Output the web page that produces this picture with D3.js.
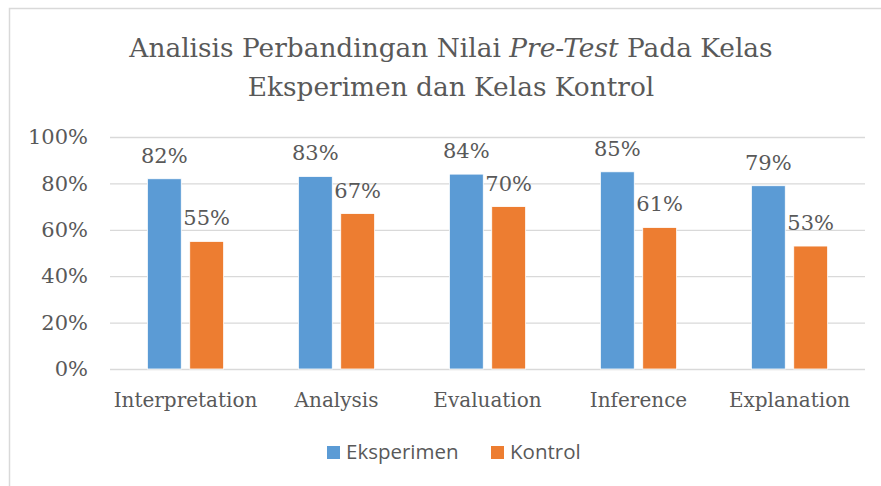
<!DOCTYPE html>
<html>
<head>
<meta charset="utf-8">
<script src="https://cdn.jsdelivr.net/npm/d3@7"></script>
<style>
  body { margin: 0; background: #fff; }
  svg text { fill: #595959; }
</style>
</head>
<body>
<script>
'use strict';

// chart data
const categories = ["Interpretation", "Analysis", "Evaluation", "Inference", "Explanation"];
const seriesNames = ["Eksperimen", "Kontrol"];
const eksperimen = [0.82, 0.83, 0.84, 0.85, 0.79];
const kontrol = [0.55, 0.67, 0.70, 0.61, 0.53];
const yTicks = [0, 0.2, 0.4, 0.6, 0.8, 1.0];

const colors = { Eksperimen: "#5b9bd5", Kontrol: "#ed7d31" };
const serif = "'DejaVu Serif', 'Liberation Serif', serif";
const sans = "'Open Sans', 'Liberation Sans', sans-serif";

let svg = d3.select('body')
  .append('svg')
  .attr('width', 881)
  .attr('height', 486);

// outer chart border (runs past the right/bottom edge)
svg.append('rect')
  .attr('x', 9.5).attr('y', 8.5)
  .attr('width', 900).attr('height', 500)
  .attr('fill', '#fff')
  .attr('stroke', '#d9d9d9')
  .attr('stroke-width', 1.5);

// build table rows from the arrays
let rows = categories.map((c, i) => ({ cat: c, Eksperimen: eksperimen[i], Kontrol: kontrol[i] }));

// scales
let x0 = d3.scaleBand()
  .domain(categories)
  .range([110, 865])
  .paddingInner(0.495)
  .paddingOuter(0.2475);

let x1 = d3.scaleBand()
  .domain(seriesNames)
  .range([0, x0.bandwidth()])
  .paddingInner(0.2);

let y = d3.scaleLinear()
  .domain([0, 1])
  .range([369, 137]);

// gridlines + y labels
let yAxis = d3.axisLeft(y)
  .tickValues(yTicks)
  .tickSize(-755)
  .tickPadding(22)
  .tickFormat(d3.format('.0%'));

let gy = svg.append('g')
  .attr('transform', 'translate(110,0)')
  .call(yAxis);
gy.select('.domain').remove();
gy.selectAll('line').attr('stroke', '#d9d9d9').attr('stroke-width', 1.3);
gy.selectAll('text')
  .style('font-family', serif)
  .style('font-size', '21px')
  .attr('fill', '#595959');

// x category labels
let xAxis = d3.axisBottom(x0).tickSize(0).tickPadding(0);
let gx = svg.append('g')
  .attr('transform', 'translate(0,369)')
  .call(xAxis);
gx.select('.domain').remove();
gx.selectAll('text')
  .attr('dy', 0)
  .attr('y', 38)
  .style('font-family', serif)
  .style('font-size', '20px')
  .attr('fill', '#595959');

// bars
let groups = svg.selectAll('.grp')
  .data(rows)
  .enter()
  .append('g')
  .attr('class', 'grp')
  .attr('transform', (d) => 'translate(' + x0(d.cat) + ',0)');

let cells = groups.selectAll('.bar')
  .data((d) => seriesNames.map((s) => ({ s: s, v: d[s] })))
  .enter();

cells.append('rect')
  .attr('class', 'bar')
  .attr('x', (d) => x1(d.s))
  .attr('y', (d) => y(d.v))
  .attr('width', x1.bandwidth())
  .attr('height', (d) => y(0) - y(d.v))
  .attr('fill', (d) => colors[d.s])
  .attr('stroke', '#fff')
  .attr('stroke-width', 0.8);

// value labels
cells.append('text')
  .attr('x', (d) => x1(d.s) + x1.bandwidth() / 2)
  .attr('y', (d) => y(d.v) - 16)
  .attr('text-anchor', 'middle')
  .style('font-family', serif)
  .style('font-size', '21px')
  .text((d) => d3.format('.0%')(d.v));

// title
let title = svg.append('text')
  .attr('text-anchor', 'middle')
  .style('font-family', serif)
  .style('font-size', '26.4px');

let line1 = title.append('tspan').attr('x', 451).attr('y', 57);
line1.append('tspan').text('Analisis Perbandingan Nilai ');
line1.append('tspan').style('font-style', 'italic').text('Pre-Test');
line1.append('tspan').text(' Pada Kelas');
title.append('tspan').attr('x', 451).attr('y', 96).text('Eksperimen dan Kelas Kontrol');

// legend
let legendX = [327, 491];
let legend = svg.selectAll('.leg')
  .data(seriesNames)
  .enter()
  .append('g')
  .attr('class', 'leg')
  .attr('transform', (d, i) => 'translate(' + legendX[i] + ',446)');

legend.append('rect')
  .attr('width', 13).attr('height', 13)
  .attr('fill', (d) => colors[d]);

legend.append('text')
  .attr('x', 19)
  .attr('y', 13)
  .style('font-family', sans)
  .style('font-size', '20.5px')
  .text((d) => d);
</script>
</body>
</html>
